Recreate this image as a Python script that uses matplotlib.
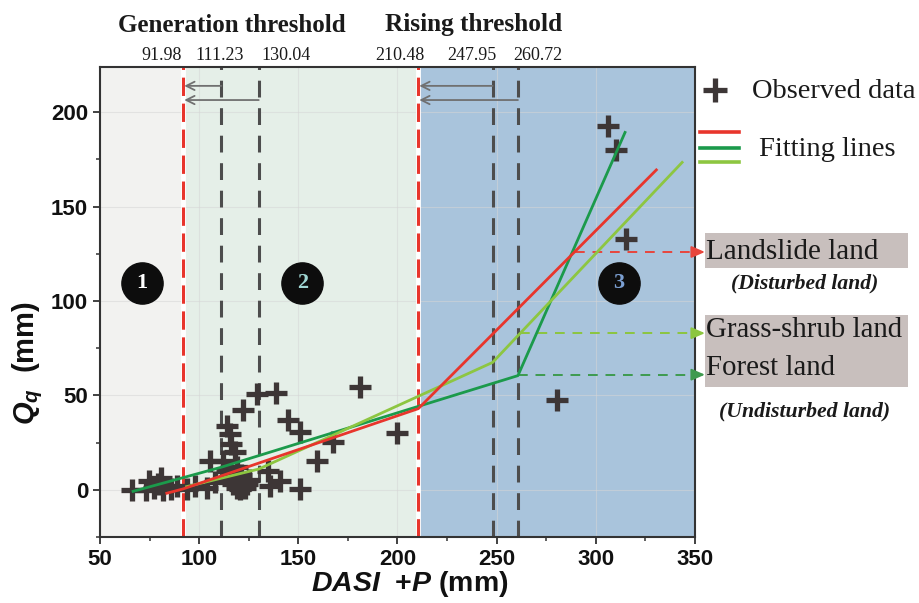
import matplotlib
matplotlib.use("Agg")
import matplotlib.pyplot as plt
from matplotlib.patches import Rectangle
from matplotlib.lines import Line2D

plt.rcParams['mathtext.fontset'] = 'custom'
plt.rcParams['mathtext.rm'] = 'Liberation Sans:bold'
plt.rcParams['mathtext.it'] = 'Liberation Sans:italic:bold'
plt.rcParams['mathtext.bf'] = 'Liberation Sans:bold'

# ---------------- data ----------------
obs_x = [66, 73, 74.5, 77, 79, 81, 82, 86, 89, 94, 98, 104, 105.5, 108, 112, 114, 114,
         115.6, 116, 116, 117, 118, 119, 119, 120.6, 121, 122, 123, 124, 125, 129, 134.7,
         135.7, 138.8, 140.8, 145, 150.9, 151, 159.3, 167.6, 181, 200, 280.5, 306, 310, 315]
obs_y = [0, 0, 4.5, 1, 3, 6, 0, 0.5, 2, 0.5, 2, 1, 15.5, 4, 15.5, 10, 34,
         29.7, 24.5, 6, 3, 20, 1, 12, 0.5, 8, 42.5, 1, 3, 5, 51, 10,
         2, 51.4, 4.8, 36.8, 30.6, 0.5, 15.5, 25.2, 54.6, 30, 47.5, 193, 180, 133]

landslide_x = [83, 91.98, 210.48, 331]
landslide_y = [-2, 0.5, 43, 170]
forest_x = [66, 111.23, 260.72, 315]
forest_y = [-1, 12, 60.5, 190]
grass_x = [93, 130.04, 247.95, 344]
grass_y = [1.5, 11, 67.5, 174]

gen_thresholds = [91.98, 111.23, 130.04]
rise_thresholds = [210.48, 247.95, 260.72]
threshold_labels = ["91.98", "111.23", "130.04", "210.48", "247.95", "260.72"]

zones = ["1", "2", "3"]
zone_x = [71, 152, 311.5]
zone_y = [109.5, 109.5, 109.5]

# annotation levels (y) for right-side labels
level_landslide = 126
level_grass = 83
level_forest = 61

# ---------------- style ----------------
RED = '#e8352c'
DGREEN = '#1b9a4b'
LGREEN = '#8dc641'
PLUS = '#3d3636'
GRAYD = '#4d4d4d'

W, H = 920, 603
fig = plt.figure(figsize=(W / 100, H / 100), dpi=100)
fig.patch.set_facecolor('white')


def fpos(x, y):
    return x / W, 1 - y / H


ax = fig.add_axes([100 / W, 1 - 537 / H, 595 / W, 470 / H])
ax.set_xlim(50, 350)
ax.set_ylim(-25, 224)

# background zones
ax.axvspan(50, gen_thresholds[0], color='#f2f2f0', zorder=0, lw=0)
ax.axvspan(gen_thresholds[0], rise_thresholds[0], color='#e5efe8', zorder=0, lw=0)
ax.axvspan(rise_thresholds[0], 350, color='#a9c4dc', zorder=0, lw=0)

ax.set_xticks(range(50, 351, 50))
ax.set_yticks(range(0, 201, 50))
ax.set_xticks(range(75, 350, 50), minor=True)
ax.set_yticks(range(-25, 225, 50), minor=True)
ax.grid(True, which='major', color='#d6d6d6', lw=0.8, alpha=0.55, zorder=0.5)
ax.set_axisbelow(True)

# threshold lines
for t in [gen_thresholds[0], rise_thresholds[0]]:
    ax.axvline(t, color='white', lw=3.5, zorder=1)
    ax.axvline(t, color=RED, lw=2.2, dashes=(6, 2.5), zorder=1.2)
for t in gen_thresholds[1:] + rise_thresholds[1:]:
    ax.axvline(t, color=GRAYD, lw=2.2, dashes=(5.5, 3.5), zorder=1.2)

# horizontal small arrows to thresholds
for grp in [gen_thresholds, rise_thresholds]:
    for t, yy in zip(grp[1:], [214, 206.5]):
        ax.annotate('', xy=(grp[0] + 0.5, yy), xytext=(t, yy),
                    arrowprops=dict(arrowstyle='->,head_length=0.6,head_width=0.3',
                                    color='#707070', lw=1.3, shrinkA=0, shrinkB=0),
                    zorder=2)

# fitting lines
ax.plot(forest_x, forest_y, color=DGREEN, lw=2, zorder=4, solid_capstyle='butt')
ax.plot(grass_x, grass_y, color=LGREEN, lw=2, zorder=4, solid_capstyle='butt')
ax.plot(landslide_x, landslide_y, color=RED, lw=2, zorder=4.1, solid_capstyle='butt')

# observed data
ax.plot(obs_x, obs_y, linestyle='none', marker='+', markersize=16.5,
        markeredgewidth=3.8, color=PLUS, zorder=3)

# zone circles
ax.scatter(zone_x, zone_y, s=880, color='#0d0d0d', zorder=5)
for z, zx, zy, c in zip(zones, zone_x, zone_y, ['#ffffff', '#9fd6d3', '#7b9fd2']):
    ax.text(zx, zy, z, ha='center', va='center', color=c, fontsize=16,
            fontweight='bold', family='Liberation Serif', zorder=6)


# right-side dashed arrows
def x_at(xs, ys, yv):
    for i in range(len(xs) - 1):
        if ys[i] <= yv <= ys[i + 1]:
            return xs[i] + (yv - ys[i]) * (xs[i + 1] - xs[i]) / (ys[i + 1] - ys[i])
    return xs[-1]


x_end = 355
for xs, ys, lvl, col in [(landslide_x, landslide_y, level_landslide, '#e8453c'),
                         (grass_x, grass_y, level_grass, '#8cc63f'),
                         (forest_x, forest_y, level_forest, '#3e9a4f')]:
    xs0 = x_at(xs, ys, lvl)
    ax.plot([xs0, x_end - 4], [lvl, lvl], color=col, lw=1.4, dashes=(5, 4),
            clip_on=False, zorder=3.5)
    ax.annotate('', xy=(x_end, lvl), xytext=(x_end - 5, lvl),
                arrowprops=dict(arrowstyle='-|>,head_length=0.8,head_width=0.35',
                                color=col, lw=1.4, shrinkA=0, shrinkB=0),
                annotation_clip=False, zorder=3.5)

# axes styling
for s in ax.spines.values():
    s.set_color('#333333')
    s.set_linewidth(1.5)
ax.tick_params(which='major', direction='out', length=5, width=1.3, colors='#333333',
               labelsize=16, labelcolor='#111111')
ax.tick_params(which='minor', direction='out', length=3, width=1.1, colors='#333333')
for lab in ax.get_xticklabels() + ax.get_yticklabels():
    lab.set_fontweight('bold')
    lab.set_family('Liberation Sans')

ax.set_xlabel(r'$DASI$  +$P$ (mm)', fontsize=20.5, fontweight='bold',
              family='Liberation Sans', color='#111111')
ax.xaxis.set_label_coords(0.52, -0.068)
ax.set_ylabel(r'$Q_q$  (mm)', fontsize=21, fontweight='bold',
              family='Liberation Sans', color='#111111')
ax.yaxis.set_label_coords(-0.093, 0.37)

# top texts
fig.text(*fpos(232, 25), 'Generation threshold', ha='center', va='center',
         fontsize=18, fontweight='bold', family='Liberation Serif', color='#1a1a1a')
fig.text(*fpos(474, 25), 'Rising threshold', ha='center', va='center',
         fontsize=18.2, fontweight='bold', family='Liberation Serif', color='#1a1a1a')
for lab, px in zip(threshold_labels, [161.7, 220, 286.5, 400, 472, 538]):
    fig.text(*fpos(px, 55), lab, ha='center', va='center', fontsize=13,
             family='Liberation Serif', color='#1a1a1a')

# legend (manual)
fig.add_artist(Line2D([715 / W], [1 - 90 / H], marker='+', markersize=17,
                      markeredgewidth=3.8, color=PLUS, linestyle='none'))
fig.text(*fpos(752, 91), 'Observed data', ha='left', va='center', fontsize=20.5,
         family='Liberation Serif', color='#1a1a1a')
for yy, c in zip([132, 147.5, 162], [RED, DGREEN, LGREEN]):
    fig.add_artist(Line2D([700 / W, 739 / W], [1 - yy / H, 1 - yy / H], color=c, lw=2.6))
fig.text(*fpos(759, 149), 'Fitting lines', ha='left', va='center', fontsize=20.5,
         family='Liberation Serif', color='#1a1a1a')

# right label boxes
BOX = '#c8bfbd'
fig.add_artist(Rectangle(fpos(705, 268), 203 / W, 35 / H, transform=fig.transFigure,
                         facecolor=BOX, edgecolor='none'))
fig.add_artist(Rectangle(fpos(705, 387), 203 / W, 72 / H, transform=fig.transFigure,
                         facecolor=BOX, edgecolor='none'))
fig.text(*fpos(706, 252), 'Landslide land', ha='left', va='center', fontsize=21,
         family='Liberation Serif', color='#1a1a1a')
fig.text(*fpos(805, 283), '(Disturbed land)', ha='center', va='center', fontsize=15.6,
         family='Liberation Serif', fontweight='bold', style='italic', color='#1a1a1a')
fig.text(*fpos(706, 330), 'Grass-shrub land', ha='left', va='center', fontsize=20.8,
         family='Liberation Serif', color='#1a1a1a')
fig.text(*fpos(706, 368), 'Forest land', ha='left', va='center', fontsize=20.8,
         family='Liberation Serif', color='#1a1a1a')
fig.text(*fpos(805, 411), '(Undisturbed land)', ha='center', va='center', fontsize=15.7,
         family='Liberation Serif', fontweight='bold', style='italic', color='#1a1a1a')

fig.savefig('out.png', dpi=100)
